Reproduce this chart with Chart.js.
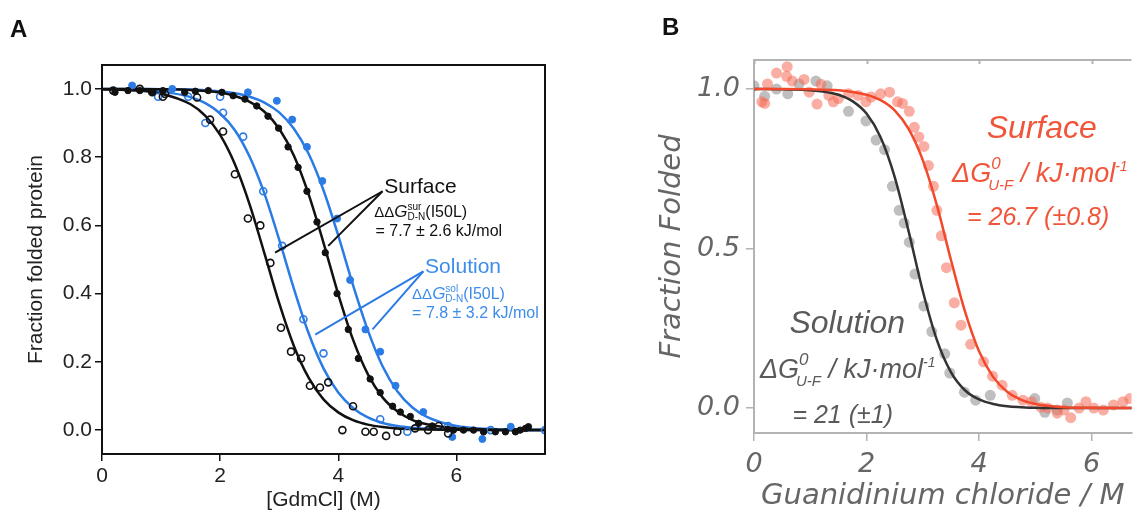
<!DOCTYPE html>
<html>
<head>
<meta charset="utf-8">
<title>Denaturation curves</title>
<script src="https://cdn.jsdelivr.net/npm/chart.js@4.4.1/dist/chart.umd.min.js"></script>
<style>
  html, body { margin: 0; padding: 0; background: #fff; overflow: hidden; }
  #wrap { position: relative; width: 1137px; height: 514px; }
  #chartA { position: absolute; left: 0; top: 0; }
  #chartB { position: absolute; left: 600px; top: 0; }
  .tag { position: absolute; font: bold 24px "Liberation Sans", Arial, sans-serif; line-height: 24px; color: #111; }
</style>
</head>
<body>
<div id="wrap">
  <canvas id="chartA" width="600" height="514"></canvas>
  <canvas id="chartB" width="537" height="514"></canvas>
  <div class="tag" style="left:10px; top:17px;">A</div>
  <div class="tag" style="left:662px; top:15px;">B</div>
</div>
<script>
// ---------- Panel A: fraction folded protein vs [GdmCl] ----------
var ticksAX = [0, 2, 4, 6];
var labelsAX = ['0', '2', '4', '6'];
var ticksAY = [0, 0.2, 0.4, 0.6, 0.8, 1.0];
var labelsAY = ['0.0', '0.2', '0.4', '0.6', '0.8', '1.0'];

// fitted two-state curves sampled along the denaturant axis
var fitGridA =        [0, 0.5, 1, 1.5, 1.75, 2, 2.25, 2.5, 2.75, 3, 3.25, 3.5, 3.75, 4, 4.25, 4.5, 4.75, 5, 5.25, 5.5, 6, 6.5, 7, 7.5];
var fitSurfaceI50L =  [0.999, 0.996, 0.986, 0.955, 0.921, 0.865, 0.779, 0.661, 0.518, 0.372, 0.246, 0.153, 0.090, 0.052, 0.029, 0.016, 0.009, 0.005, 0.003, 0.002, 0.001, 0, 0, 0];
var fitSurfaceWT =    [1.0, 1.0, 0.999, 0.997, 0.994, 0.989, 0.979, 0.962, 0.933, 0.883, 0.804, 0.690, 0.549, 0.398, 0.265, 0.164, 0.096, 0.055, 0.030, 0.017, 0.005, 0.002, 0, 0];
var fitSolutionI50L = [0.999, 0.998, 0.992, 0.976, 0.958, 0.928, 0.879, 0.801, 0.693, 0.558, 0.414, 0.283, 0.181, 0.110, 0.065, 0.037, 0.021, 0.012, 0.007, 0.004, 0.001, 0, 0, 0];
var fitSolutionWT =   [1.0, 1.0, 0.999, 0.998, 0.996, 0.993, 0.987, 0.977, 0.960, 0.931, 0.883, 0.809, 0.703, 0.570, 0.425, 0.293, 0.187, 0.114, 0.067, 0.039, 0.012, 0.004, 0.001, 0];

// measured points (open = I50L, filled = wild type)
var surfaceI50LX = [0.19, 0.64, 0.85, 1.03, 1.07, 1.61, 1.83, 2.05, 2.25, 2.47, 2.68, 2.85, 3.03, 3.2, 3.37, 3.52, 3.69, 3.83, 4.07, 4.25, 4.46, 4.6, 4.81, 5.0, 5.3, 5.52, 5.7, 5.86];
var surfaceI50LY = [0.995, 1.0, 0.99, 0.977, 0.985, 0.975, 0.91, 0.875, 0.75, 0.62, 0.60, 0.49, 0.30, 0.23, 0.21, 0.13, 0.125, 0.14, 0.0, 0.07, -0.005, -0.005, -0.017, -0.005, 0.005, 0.0, 0.012, -0.01];
var surfaceWTX = [0.22, 0.44, 0.64, 0.85, 1.03, 1.4, 1.58, 1.8, 2.03, 2.22, 2.42, 2.62, 2.81, 2.99, 3.15, 3.32, 3.47, 3.64, 3.78, 3.98, 4.17, 4.34, 4.54, 4.71, 4.92, 5.05, 5.22, 5.36, 5.59, 5.85, 5.95, 6.12, 6.29, 6.46, 6.66, 6.83, 7.0, 7.08, 7.17, 7.22];
var surfaceWTY = [0.99, 0.995, 0.995, 0.99, 0.995, 0.99, 0.993, 0.995, 0.99, 0.98, 0.97, 0.95, 0.92, 0.885, 0.83, 0.77, 0.70, 0.61, 0.52, 0.40, 0.295, 0.21, 0.15, 0.11, 0.07, 0.053, 0.04, 0.02, 0.012, 0.003, 0.0, 0.0, 0.0, -0.005, -0.005, -0.005, -0.005, 0.0, 0.005, 0.01];
var solutionI50LX = [0.95, 1.46, 1.75, 2.0, 2.05, 2.39, 2.73, 3.05, 3.41, 3.75, 4.71, 5.17, 5.86, 6.58, 7.5];
var solutionI50LY = [0.977, 0.977, 0.90, 0.977, 0.93, 0.86, 0.70, 0.54, 0.325, 0.225, 0.032, -0.005, 0.012, 0.0, 0.0];
var solutionWTX = [0.51, 1.19, 2.47, 2.96, 3.22, 3.47, 3.73, 3.98, 4.2, 4.46, 4.71, 4.97, 5.44, 5.93, 6.44, 6.92];
var solutionWTY = [1.01, 1.0, 0.99, 0.965, 0.91, 0.83, 0.73, 0.62, 0.44, 0.295, 0.23, 0.13, 0.053, -0.02, -0.026, 0.01];

// ---------- Panel B: fraction folded vs guanidinium chloride ----------
var ticksBX = [0, 2, 4, 6];
var labelsBX = ['0', '2', '4', '6'];
var ticksBY = [0, 0.5, 1.0];
var labelsBY = ['0.0', '0.5', '1.0'];

var fitGridB =    [0, 0.5, 1, 1.5, 1.75, 2, 2.25, 2.5, 2.75, 3, 3.25, 3.5, 3.75, 4, 4.25, 4.5, 4.75, 5, 5.5, 6, 6.5, 7];
var fitSolution = [1.0, 0.999, 0.996, 0.982, 0.962, 0.923, 0.849, 0.725, 0.553, 0.367, 0.214, 0.113, 0.056, 0.027, 0.013, 0.006, 0.003, 0.001, 0, 0, 0, 0];
var fitSurface =  [1.0, 1.0, 0.999, 0.996, 0.991, 0.982, 0.965, 0.933, 0.874, 0.777, 0.636, 0.465, 0.303, 0.178, 0.098, 0.051, 0.026, 0.013, 0.003, 0.001, 0, 0];

var solutionX = [0, 0.19, 0.4, 0.6, 0.8, 1.1, 1.3, 1.68, 1.99, 2.17, 2.32, 2.46, 2.58, 2.67, 2.76, 2.86, 3.02, 3.16, 3.39, 3.48, 3.74, 3.94, 4.2, 4.99, 5.17, 5.39, 5.57];
var solutionY = [1.01, 0.977, 1.0, 0.985, 1.016, 1.025, 1.01, 0.93, 0.90, 0.84, 0.81, 0.695, 0.62, 0.58, 0.52, 0.42, 0.32, 0.24, 0.17, 0.11, 0.05, 0.025, 0.04, 0.03, -0.013, -0.006, 0.016];
var surfaceX = [0.14, 0.19, 0.24, 0.4, 0.58, 0.59, 0.68, 0.89, 0.98, 1.12, 1.19, 1.33, 1.41, 1.5, 1.68, 1.85, 1.99, 2.08, 2.25, 2.41, 2.55, 2.64, 2.76, 2.85, 2.93, 3.02, 3.1, 3.19, 3.25, 3.33, 3.42, 3.56, 3.68, 3.85, 4.08, 4.24, 4.41, 4.59, 4.78, 4.93, 5.1, 5.22, 5.39, 5.51, 5.63, 5.78, 5.9, 6.04, 6.21, 6.39, 6.56, 6.68];
var surfaceY = [0.96, 0.955, 1.016, 1.05, 1.04, 1.07, 1.025, 1.03, 0.99, 0.953, 1.015, 0.98, 0.96, 0.97, 0.985, 0.98, 0.96, 0.975, 0.985, 0.99, 0.96, 0.955, 0.93, 0.88, 0.85, 0.82, 0.76, 0.695, 0.62, 0.54, 0.44, 0.33, 0.26, 0.20, 0.145, 0.10, 0.072, 0.04, 0.025, 0.02, 0.003, 0.0, -0.016, -0.006, -0.03, 0.0, 0.02, 0.0, -0.006, 0.01, 0.02, 0.03];

// ---------- styling ----------
var sans = '"Liberation Sans", Arial, Helvetica, sans-serif';
var wide = '"DejaVu Sans", Verdana, sans-serif';
var ink = '#111111';
var blue = '#2b7be5';
var blueText = '#3b8ceb';
var red = '#f2492c';
var redText = '#f0553a';
var dark = '#333333';
var greyText = '#5a5a5a';
var axisGrey = '#b3b3b3';

function xy(xs, ys) {
    return xs.map(function (x, i) { return { x: x, y: ys[i] }; });
}

function curve(xs, ys, color, width, order) {
    return {
        data: xy(xs, ys),
        showLine: true,
        borderColor: color,
        borderWidth: width,
        pointRadius: 0,
        cubicInterpolationMode: 'monotone',
        fill: false,
        order: order
    };
}

function dots(xs, ys, fillColor, edgeColor, radius, edge, order) {
    return {
        data: xy(xs, ys),
        showLine: false,
        pointRadius: radius,
        pointBackgroundColor: fillColor,
        pointBorderColor: edgeColor,
        pointBorderWidth: edge,
        order: order
    };
}

// draws a row of text pieces; a piece with hold:true keeps the pen still
// so the next piece (a subscript) stacks under it
function drawRuns(ctx, px, py, runs) {
    var cx = px, held = 0;
    ctx.textAlign = 'left';
    ctx.textBaseline = 'alphabetic';
    runs.forEach(function (r) {
        ctx.font = r.font;
        ctx.fillStyle = r.color;
        ctx.fillText(r.text, cx + (r.dx || 0), py + (r.dy || 0));
        var w = ctx.measureText(r.text).width + (r.dx || 0);
        if (r.hold) {
            held = Math.max(held, w);
        } else {
            cx += Math.max(w, held);
            held = 0;
        }
    });
}

function pointer(ctx, sx, sy, p, color) {
    ctx.strokeStyle = color;
    ctx.lineWidth = 2;
    p.to.forEach(function (t) {
        ctx.beginPath();
        ctx.moveTo(sx.getPixelForValue(p.from[0]), sy.getPixelForValue(p.from[1]));
        ctx.lineTo(sx.getPixelForValue(t[0]), sy.getPixelForValue(t[1]));
        ctx.stroke();
    });
}

// callout lines (data units) from each label to its two curves
var surfacePointer = { from: [4.75, 0.70], to: [[2.93, 0.52], [3.83, 0.54]] };
var solutionPointer = { from: [5.44, 0.465], to: [[3.61, 0.28], [4.58, 0.295]] };

var notesA = [
    { at: [4.78, 0.696], runs: [{ text: 'Surface', font: '21px ' + sans, color: ink }] },
    { at: [4.61, 0.626], runs: [
        { text: 'ΔΔ', font: '15px ' + sans, color: ink },
        { text: 'G', font: 'italic 17px ' + sans, color: ink },
        { text: 'sur', font: '10px ' + sans, color: ink, dy: -7, hold: true },
        { text: 'D-N', font: '10px ' + sans, color: ink, dy: 3 },
        { text: '(I50L)', font: '16px ' + sans, color: ink }] },
    { at: [4.63, 0.570], runs: [{ text: '= 7.7 ± 2.6 kJ/mol', font: '16px ' + sans, color: ink }] },
    { at: [5.47, 0.459], runs: [{ text: 'Solution', font: '21px ' + sans, color: blueText }] },
    { at: [5.25, 0.383], runs: [
        { text: 'ΔΔ', font: '15px ' + sans, color: blueText },
        { text: 'G', font: 'italic 17px ' + sans, color: blueText },
        { text: 'sol', font: '10px ' + sans, color: blueText, dy: -7, hold: true },
        { text: 'D-N', font: '10px ' + sans, color: blueText, dy: 3 },
        { text: '(I50L)', font: '16px ' + sans, color: blueText }] },
    { at: [5.25, 0.330], runs: [{ text: '= 7.8 ± 3.2 kJ/mol', font: '16px ' + sans, color: blueText }] }
];

function energyRuns(color) {
    return [
        { text: 'ΔG', font: 'italic 27px ' + sans, color: color },
        { text: '0', font: 'italic 17px ' + sans, color: color, dy: -13, hold: true },
        { text: 'U-F', font: 'italic 15px ' + sans, color: color, dx: -3, dy: 8 },
        { text: ' / kJ·mol', font: 'italic 27px ' + sans, color: color },
        { text: '-1', font: 'italic 14px ' + sans, color: color, dy: -11 }
    ];
}

var notesB = [
    { at: [4.135, 0.846], runs: [{ text: 'Surface', font: 'italic 32px ' + sans, color: redText }] },
    { at: [3.52, 0.708], runs: energyRuns(redText) },
    { at: [3.785, 0.574], runs: [{ text: '= 26.7 (±0.8)', font: 'italic 25px ' + sans, color: redText }] },
    { at: [0.63, 0.235], runs: [{ text: 'Solution', font: 'italic 32px ' + sans, color: greyText }] },
    { at: [0.105, 0.094], runs: energyRuns(greyText) },
    { at: [0.683, -0.047], runs: [{ text: '= 21 (±1)', font: 'italic 25px ' + sans, color: greyText }] }
];

var framePlugin = {
    id: 'frameA',
    afterDatasetsDraw: function (chart) {
        var ctx = chart.ctx, a = chart.chartArea, sx = chart.scales.x, sy = chart.scales.y;
        ctx.save();
        ctx.strokeStyle = ink;
        ctx.lineWidth = 2;
        ctx.strokeRect(a.left, a.top, a.right - a.left, a.bottom - a.top);
        pointer(ctx, sx, sy, surfacePointer, ink);
        pointer(ctx, sx, sy, solutionPointer, blue);
        notesA.forEach(function (n) {
            drawRuns(ctx, sx.getPixelForValue(n.at[0]), sy.getPixelForValue(n.at[1]), n.runs);
        });
        ctx.restore();
    }
};

var topAxisPlugin = {
    id: 'topAxisB',
    afterDatasetsDraw: function (chart) {
        var ctx = chart.ctx, a = chart.chartArea, sx = chart.scales.x, sy = chart.scales.y;
        ctx.save();
        ctx.strokeStyle = axisGrey;
        ctx.lineWidth = 2;
        ctx.beginPath();
        ctx.moveTo(a.left - 1, a.top);
        ctx.lineTo(a.right, a.top);
        ticksBX.forEach(function (v) {
            var px = Math.round(sx.getPixelForValue(v)) + 0.5;
            ctx.moveTo(px, a.top);
            ctx.lineTo(px, a.top + 4);
        });
        ctx.stroke();
        notesB.forEach(function (n) {
            drawRuns(ctx, sx.getPixelForValue(n.at[0]), sy.getPixelForValue(n.at[1]), n.runs);
        });
        ctx.restore();
    }
};

function fixedTicks(list) {
    return function (scale) {
        scale.ticks = list.map(function (v) { return { value: v }; });
    };
}

// ---------- Chart A ----------
var chartA = new Chart(document.getElementById('chartA').getContext('2d'), {
    type: 'scatter',
    data: {
        datasets: [
            curve(fitGridA, fitSurfaceI50L, ink, 2.5, 1),
            curve(fitGridA, fitSurfaceWT, ink, 2.5, 1),
            curve(fitGridA, fitSolutionI50L, blue, 2.5, 1),
            curve(fitGridA, fitSolutionWT, blue, 2.5, 1),
            dots(surfaceI50LX, surfaceI50LY, 'rgba(255,255,255,0)', ink, 3.5, 1.6, 0),
            dots(surfaceWTX, surfaceWTY, ink, ink, 3.2, 1, 0),
            dots(solutionI50LX, solutionI50LY, 'rgba(255,255,255,0)', blue, 3.5, 1.6, 0),
            dots(solutionWTX, solutionWTY, blue, blue, 3.5, 1, 0)
        ]
    },
    options: {
        responsive: false,
        animation: false,
        devicePixelRatio: 1,
        layout: { padding: { left: 0, top: 65, right: 55, bottom: 0 } },
        plugins: { legend: { display: false }, tooltip: { enabled: false } },
        scales: {
            x: {
                type: 'linear', min: 0, max: 7.5,
                afterBuildTicks: fixedTicks(ticksAX),
                afterFit: function (s) { s.height = 60; },
                grid: { drawOnChartArea: false, drawTicks: true, tickLength: 7, color: ink, lineWidth: 1.5 },
                border: { display: true, color: ink, width: 2 },
                ticks: {
                    padding: 3, color: '#222', maxRotation: 0,
                    font: { family: sans, size: 21 },
                    callback: function (v, i) { return labelsAX[i]; }
                },
                title: { display: true, text: '[GdmCl] (M)', color: '#222', font: { family: sans, size: 21 }, padding: { top: 0, bottom: 1 } }
            },
            y: {
                type: 'linear', min: -0.07, max: 1.07,
                afterBuildTicks: fixedTicks(ticksAY),
                afterFit: function (s) { s.width = 102; },
                grid: { drawOnChartArea: false, drawTicks: true, tickLength: 7, color: ink, lineWidth: 1.5 },
                border: { display: true, color: ink, width: 2 },
                ticks: {
                    padding: 3, color: '#222',
                    font: { family: sans, size: 21 },
                    callback: function (v, i) { return labelsAY[i]; }
                },
                title: { display: true, text: 'Fraction folded protein', color: '#222', font: { family: sans, size: 21 }, padding: { top: 24, bottom: 0 } }
            }
        }
    },
    plugins: [framePlugin]
});

// ---------- Chart B ----------
var chartB = new Chart(document.getElementById('chartB').getContext('2d'), {
    type: 'scatter',
    data: {
        datasets: [
            curve(fitGridB, fitSurface, red, 2.5, 0),
            curve(fitGridB, fitSolution, dark, 2.5, 1),
            dots(surfaceX, surfaceY, 'rgba(246,108,88,0.55)', 'rgba(0,0,0,0)', 5.5, 0, 2),
            dots(solutionX, solutionY, 'rgba(128,128,128,0.5)', 'rgba(0,0,0,0)', 5.5, 0, 3)
        ]
    },
    options: {
        responsive: false,
        animation: false,
        devicePixelRatio: 1,
        layout: { padding: { left: 0, top: 60, right: 0, bottom: 0 } },
        plugins: { legend: { display: false }, tooltip: { enabled: false } },
        scales: {
            x: {
                type: 'linear', min: 0, max: 6.71,
                afterBuildTicks: fixedTicks(ticksBX),
                afterFit: function (s) { s.height = 81; },
                grid: { drawOnChartArea: false, drawTicks: true, tickLength: 8, color: axisGrey, lineWidth: 1.5 },
                border: { display: true, color: axisGrey, width: 2 },
                ticks: {
                    padding: 8, color: '#666', maxRotation: 0,
                    font: { family: wide, size: 27, style: 'italic' },
                    callback: function (v, i) { return labelsBX[i]; }
                },
                title: { display: true, text: 'Guanidinium chloride / M', color: '#666', font: { family: wide, size: 29, style: 'italic' }, padding: { top: 0, bottom: 0 } }
            },
            y: {
                type: 'linear', min: -0.078, max: 1.091,
                afterBuildTicks: fixedTicks(ticksBY),
                afterFit: function (s) { s.width = 154; },
                grid: { drawOnChartArea: false, drawTicks: true, tickLength: 8, color: axisGrey, lineWidth: 1.5 },
                border: { display: true, color: axisGrey, width: 2 },
                ticks: {
                    padding: 6, color: '#666',
                    font: { family: wide, size: 27, style: 'italic' },
                    callback: function (v, i) { return labelsBY[i]; }
                },
                title: { display: true, text: 'Fraction Folded', color: '#666', font: { family: wide, size: 29, style: 'italic' }, padding: { top: 55, bottom: 0 } }
            }
        }
    },
    plugins: [topAxisPlugin]
});
</script>
</body>
</html>
